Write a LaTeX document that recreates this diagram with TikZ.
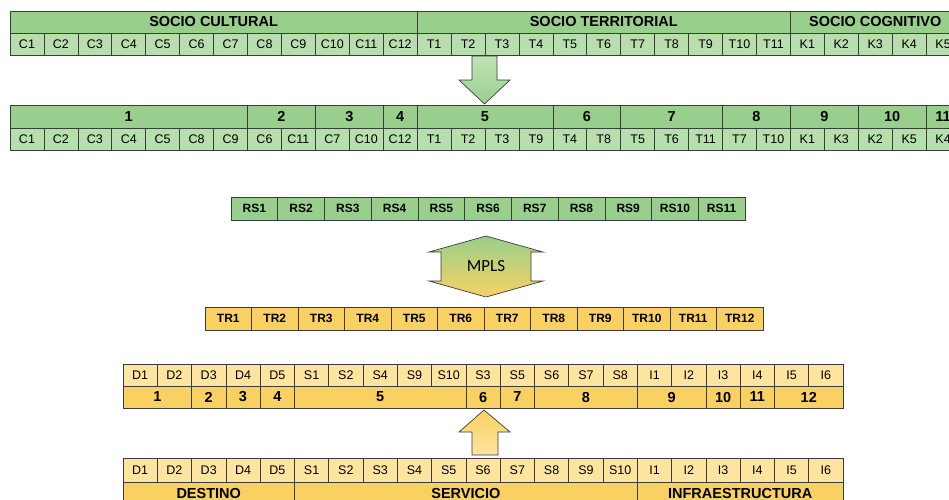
\documentclass[tikz,border=0pt]{standalone}
\usepackage{fontspec}
\setmainfont{Liberation Sans}
\newfontfamily\calibri{Carlito}
\definecolor{ghead}{HTML}{99CF8C}
\definecolor{gcell}{HTML}{B7DEAD}
\definecolor{glight}{HTML}{BFE3B5}
\definecolor{ycell}{HTML}{FDE5A0}
\definecolor{yhead}{HTML}{F9D163}
\definecolor{edge}{HTML}{3C3C3C}
\begin{document}
\begin{tikzpicture}[x=1pt,y=-1pt,
  box/.style={draw=edge, line width=0.7pt, inner sep=0pt, outer sep=0pt, minimum height=22pt},
  gh/.style={box, fill=ghead, font=\bfseries\fontsize{14.5}{15}\selectfont},
  gc/.style={box, fill=gcell, font=\fontsize{12.5}{13}\selectfont},
  gb/.style={box, fill=ghead, minimum height=23pt, font=\bfseries\fontsize{12}{13}\selectfont},
  yh/.style={box, fill=yhead, font=\bfseries\fontsize{14.5}{15}\selectfont},
  yc/.style={box, fill=ycell, font=\fontsize{12.5}{13}\selectfont},
  yb/.style={box, fill=yhead, minimum height=23pt, font=\bfseries\fontsize{12}{13}\selectfont},
  blockarrow/.style={draw=edge, line width=0.7pt}]
\useasboundingbox (0,0) rectangle (949,499);
\clip (0,0) rectangle (949,499);
\fill[white] (0,0) rectangle (949,499);

% ---------- green rows (dimension codes) ----------
\def\wa{33.93}
\foreach \t/\s/\n [count=\k] in {SOCIO CULTURAL/0/12,SOCIO TERRITORIAL/12/11,SOCIO COGNITIVO/23/5}{
  \pgfmathsetmacro\cx{10+\wa*(\s+\n/2)}
  \pgfmathsetmacro\ww{\wa*\n}
  \node[gh, minimum width=\ww pt] (ga\k) at (\cx,22) {\t};
}
\foreach \t [count=\i from 0] in {C1,C2,C3,C4,C5,C6,C7,C8,C9,C10,C11,C12,T1,T2,T3,T4,T5,T6,T7,T8,T9,T10,T11,K1,K2,K3,K4,K5}{
  \pgfmathsetmacro\cx{10+\wa*(\i+0.5)}
  \node[gc, minimum width=\wa pt] (ca\i) at (\cx,44) {\t};
}

% regrouped codes
\foreach \t/\s/\n [count=\k] in {1/0/7,2/7/2,3/9/2,4/11/1,5/12/4,6/16/2,7/18/3,8/21/2,9/23/2,10/25/2,11/27/1}{
  \pgfmathsetmacro\cx{10+\wa*(\s+\n/2)}
  \pgfmathsetmacro\ww{\wa*\n}
  \node[gh, minimum height=23pt, minimum width=\ww pt] (gb\k) at (\cx,116.5) {\t};
}
\foreach \t [count=\i from 0] in {C1,C2,C3,C4,C5,C8,C9,C6,C11,C7,C10,C12,T1,T2,T3,T9,T4,T8,T5,T6,T11,T7,T10,K1,K3,K2,K5,K4}{
  \pgfmathsetmacro\cx{10+\wa*(\i+0.5)}
  \node[gc, minimum width=\wa pt] (cb\i) at (\cx,139) {\t};
}

% arrow between the two green rows
\shade[blockarrow, top color=glight, bottom color=ghead]
  (472,56) -- (497,56) -- (497,80) -- (510,80) -- (484.5,104) -- (459,80) -- (472,80) -- cycle;

% ---------- RS row ----------
\def\wr{46.73}
\foreach \i in {1,...,11}{
  \pgfmathsetmacro\cx{231+\wr*(\i-0.5)}
  \node[gb, minimum width=\wr pt] (rs\i) at (\cx,208.5) {RS\i};
}

% MPLS double arrow
\shade[blockarrow, top color=ghead, bottom color=yhead]
  (486,236) -- (543,252) -- (531,252) -- (531,281) -- (543,281) -- (486,297)
  -- (429,281) -- (441,281) -- (441,252) -- (429,252) -- cycle;
\node[font=\calibri\fontsize{17}{18}\selectfont] (mpls) at (486,266.5) {MPLS};

% ---------- TR row ----------
\def\wt{46.5}
\foreach \i in {1,...,12}{
  \pgfmathsetmacro\cx{205+\wt*(\i-0.5)}
  \node[yb, minimum width=\wt pt] (tr\i) at (\cx,318.5) {TR\i};
}

% ---------- yellow rows (destination codes) ----------
\def\wy{34.29}
\foreach \t [count=\i from 0] in {D1,D2,D3,D4,D5,S1,S2,S4,S9,S10,S3,S5,S6,S7,S8,I1,I2,I3,I4,I5,I6}{
  \pgfmathsetmacro\cx{123+\wy*(\i+0.5)}
  \node[yc, minimum width=\wy pt] (ya\i) at (\cx,375) {\t};
}
\foreach \t/\s/\n [count=\k] in {1/0/2,2/2/1,3/3/1,4/4/1,5/5/5,6/10/1,7/11/1,8/12/3,9/15/2,10/17/1,11/18/1,12/19/2}{
  \pgfmathsetmacro\cx{123+\wy*(\s+\n/2)}
  \pgfmathsetmacro\ww{\wy*\n}
  \node[yh, minimum width=\ww pt] (yg\k) at (\cx,397) {\t};
}

% upward arrow
\shade[blockarrow, top color=yhead, bottom color=ycell]
  (484,410) -- (510,432) -- (498,432) -- (498,455) -- (472,455) -- (472,432) -- (459,432) -- cycle;

\foreach \t [count=\i from 0] in {D1,D2,D3,D4,D5,S1,S2,S3,S4,S5,S6,S7,S8,S9,S10,I1,I2,I3,I4,I5,I6}{
  \pgfmathsetmacro\cx{123+\wy*(\i+0.5)}
  \node[yc, minimum width=\wy pt, minimum height=24pt] (yb\i) at (\cx,470) {\t};
}
\foreach \t/\s/\n [count=\k] in {DESTINO/0/5,SERVICIO/5/10,INFRAESTRUCTURA/15/6}{
  \pgfmathsetmacro\cx{123+\wy*(\s+\n/2)}
  \pgfmathsetmacro\ww{\wy*\n}
  \node[yh, minimum width=\ww pt, minimum height=22pt] (yd\k) at (\cx,493) {\t};
}
\end{tikzpicture}
\end{document}
